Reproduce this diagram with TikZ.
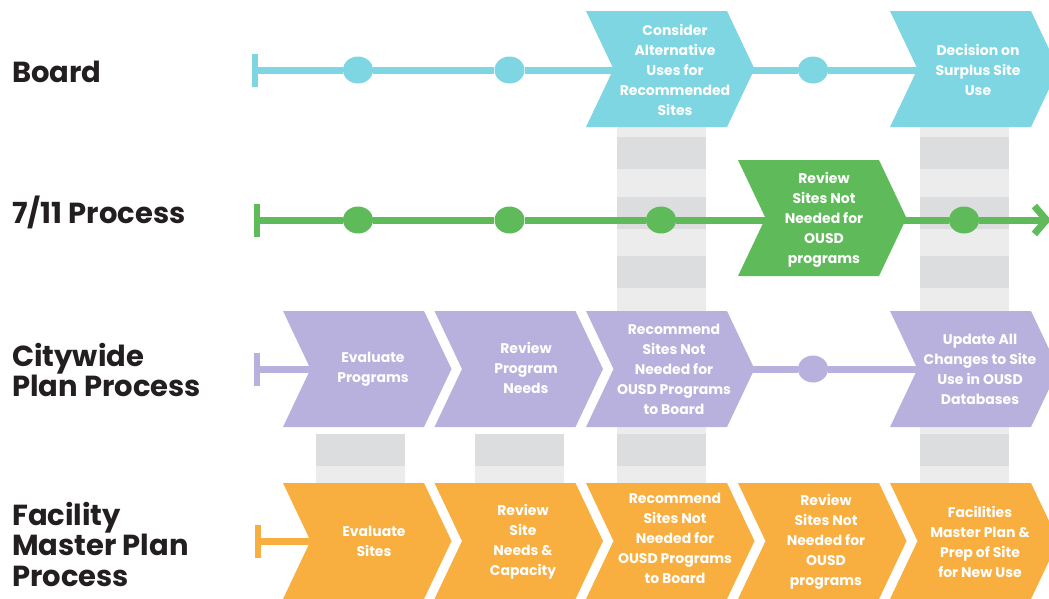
\documentclass[tikz,border=0pt]{standalone}
\usepackage{fontspec}
\setmainfont{Poppins}
\usetikzlibrary{shapes.geometric,arrows.meta,backgrounds}

\definecolor{boardcol}{HTML}{7DD6E2}
\definecolor{sevencol}{HTML}{5FBB5A}
\definecolor{citycol}{HTML}{B8B1DD}
\definecolor{facilcol}{HTML}{F9AE40}
\definecolor{greydark}{HTML}{DCDDDF}
\definecolor{greylight}{HTML}{ECECEC}
\definecolor{labelcol}{HTML}{231F20}

% chevron: left top x, top y, colour
\newcommand{\chevshape}[3]{%
  \fill[#3] (#1,#2) -- ++(141,0) -- ++(27.5,58) -- ++(-27.5,58)
    -- ++(-141,0) -- ++(27.5,-58) -- cycle;}

\tikzset{
  rowlabel/.style={anchor=base west, inner sep=0pt, align=left, text=labelcol,
    font=\bfseries\fontsize{29}{30.5}\selectfont},
  steptext/.style={inner sep=0pt, align=center, text=white,
    font=\bfseries\fontsize{14}{20}\selectfont},
  startbar/.style={fill=#1, minimum width=6pt, minimum height=33pt, inner sep=0pt},
  milestone/.style={ellipse, fill=#1, minimum width=30pt, minimum height=27pt, inner sep=0pt},
  track/.style={line width=7pt, draw=#1},
}

\begin{document}
\begin{tikzpicture}[x=1pt, y=-1pt]
  \useasboundingbox (0,0) rectangle (1049,598);

  % Row labels
  \node[rowlabel] (lblboard) at (12,82) {Board};
  \node[rowlabel] (lblseven) at (12,223) {7/11 Process};
  \node[rowlabel, anchor=north west] (lblcity) at (12,343) {Citywide\\Plan Process};
  \node[rowlabel, anchor=north west] (lblfacil) at (12,502) {Facility\\Master Plan\\Process};

  % Board chevrons
  \chevshape{586}{11}{boardcol}
  \node[steptext] (brd3) at (675,70) {Consider\\Alternative\\Uses for\\Recommended\\Sites};
  \chevshape{890}{11}{boardcol}
  \node[steptext] (brd5) at (978,70) {Decision on\\Surplus Site\\Use};

  % 7/11 chevron
  \chevshape{738}{160}{sevencol}
  \node[steptext] (sev4) at (824,220) {Review\\Sites Not\\Needed for\\OUSD\\programs};

  % Citywide chevrons
  \chevshape{283}{311}{citycol}
  \node[steptext] (cty1) at (373,369) {Evaluate\\Programs};
  \chevshape{434.5}{311}{citycol}
  \node[steptext] (cty2) at (526,368) {Review\\Program\\Needs};
  \chevshape{586}{311}{citycol}
  \node[steptext] (cty3) at (674,369) {Recommend\\Sites Not\\Needed for\\OUSD Programs\\to Board};
  \chevshape{890}{311}{citycol}
  \node[steptext] (cty5) at (980,369) {Update All\\Changes to Site\\Use in OUSD\\Databases};

  % Facility chevrons
  \chevshape{283}{483}{facilcol}
  \node[steptext] (fac1) at (374,541) {Evaluate\\Sites};
  \chevshape{434.5}{483}{facilcol}
  \node[steptext] (fac2) at (523,542) {Review\\Site\\Needs \&\\Capacity};
  \chevshape{586}{483}{facilcol}
  \node[steptext] (fac3) at (675,538) {Recommend\\Sites Not\\Needed for\\OUSD Programs\\to Board};
  \chevshape{738}{483}{facilcol}
  \node[steptext] (fac4) at (826,542) {Review\\Sites Not\\Needed for\\OUSD\\programs};
  \chevshape{890}{483}{facilcol}
  \node[steptext] (fac5) at (980,542) {Facilities\\Master Plan \&\\Prep of Site\\for New Use};

  \begin{scope}[on background layer]
    % Grey columns
    \fill[greylight] (617,127) rectangle (706,483);
    \fill[greylight] (920,127) rectangle (1009,483);
    \foreach \xa in {617,920} {
      \foreach \ya in {137,197,256,434}
        \fill[greydark] (\xa,\ya) rectangle ++(89,32);
    }
    \foreach \xa in {316,475} {
      \fill[greylight] (\xa,434) rectangle ++(89,49);
      \fill[greydark] (\xa,434) rectangle ++(89,32);
    }

    % Board track
    \node[startbar=boardcol] (brdbar) at (255,70) {};
    \node[milestone=boardcol] (brdm1) at (358,70) {};
    \node[milestone=boardcol] (brdm2) at (509.5,70) {};
    \node[milestone=boardcol] (brdm4) at (813,70) {};
    \draw[track=boardcol] (brdbar) -- (brdm1) -- (brdm2) -- (brd3);
    \draw[track=boardcol] (brd3) -- (brdm4) -- (brd5);

    % 7/11 track
    \node[startbar=sevencol] (sevbar) at (257,220) {};
    \node[milestone=sevencol] (sevm1) at (358,220) {};
    \node[milestone=sevencol] (sevm2) at (509.5,220) {};
    \node[milestone=sevencol] (sevm3) at (661,220) {};
    \node[milestone=sevencol] (sevm5) at (964,220) {};
    \coordinate (sevend) at (1051,220);
    \draw[track=sevencol] (sevbar) -- (sevm1) -- (sevm2) -- (sevm3) -- (sev4);
    \draw[track=sevencol] (sev4) -- (sevm5);
    \draw[track=sevencol, -{Straight Barb[length=12pt, width=28pt]}] (sevm5) -- (sevend);

    % Citywide track
    \node[startbar=citycol] (ctybar) at (257,369) {};
    \node[milestone=citycol] (ctym4) at (813,369) {};
    \draw[track=citycol] (ctybar) -- (cty1);
    \draw[track=citycol] (cty3) -- (ctym4) -- (cty5);

    % Facility track
    \node[startbar=facilcol] (facbar) at (257.5,541) {};
    \draw[track=facilcol] (facbar) -- (fac1);
  \end{scope}
\end{tikzpicture}
\end{document}
